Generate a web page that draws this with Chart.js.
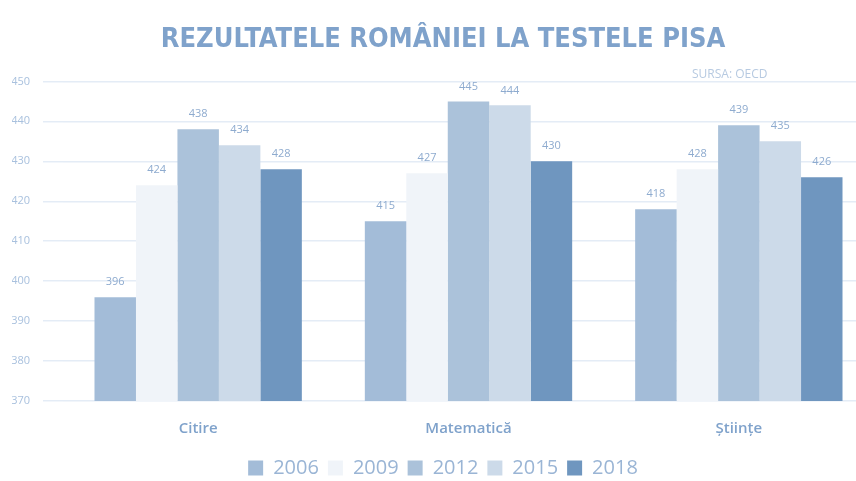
<!DOCTYPE html>
<html>
<head>
<meta charset="utf-8">
<script src="https://cdn.jsdelivr.net/npm/chart.js@4"></script>
<style>
  html, body { margin: 0; padding: 0; background: #fff; overflow: hidden; }
  #wrap { width: 856px; height: 481px; overflow: hidden; }
</style>
</head>
<body>
<div id="wrap"><canvas id="chart" width="880" height="481"></canvas></div>
<script>
const categories = ['Citire', 'Matematică', 'Științe'];
const years = ['2006', '2009', '2012', '2015', '2018'];
const scores2006 = [396, 415, 418];
const scores2009 = [424, 427, 428];
const scores2012 = [438, 445, 439];
const scores2015 = [434, 444, 435];
const scores2018 = [428, 430, 426];
const yTicks = [370, 380, 390, 400, 410, 420, 430, 440, 450];

const colors = ['#a3bcd8', '#f0f4f9', '#abc2da', '#ccdae9', '#6f96bf'];
const allScores = [scores2006, scores2009, scores2012, scores2015, scores2018];

const datasets = years.map((y, i) => ({
  label: y,
  data: allScores[i],
  backgroundColor: colors[i],
  borderWidth: 0,
  categoryPercentage: 0.767,
  barPercentage: 1.0,
}));

// value labels over bars and the source note
const barLabels = {
  id: 'barLabels',
  afterDatasetsDraw(chart) {
    const ctx = chart.ctx;
    ctx.save();
    ctx.font = '11px "Open Sans"';
    ctx.fillStyle = '#8eabcf';
    ctx.textAlign = 'center';
    ctx.textBaseline = 'middle';
    chart.data.datasets.forEach((ds, i) => {
      chart.getDatasetMeta(i).data.forEach((bar, j) => {
        ctx.fillText(ds.data[j], bar.x, bar.y - 15);
      });
    });
    ctx.font = '12px "Open Sans"';
    ctx.fillStyle = '#b7cae1';
    ctx.textAlign = 'left';
    ctx.fillText('SURSA: OECD', 692, 75);
    ctx.restore();
  },
};

new Chart(document.getElementById('chart'), {
  type: 'bar',
  data: { labels: categories, datasets },
  options: {
    responsive: false,
    animation: false,
    layout: { padding: { left: 12, right: 6, bottom: -7 } },
    scales: {
      x: {
        grid: { display: false },
        border: { display: false },
        ticks: {
          color: '#7fa2cb',
          font: { family: 'Open Sans', size: 15, weight: '600' },
          padding: 11,
        },
      },
      y: {
        min: 370,
        max: 450,
        afterBuildTicks(scale) { scale.ticks = yTicks.map(v => ({ value: v })); },
        afterFit(scale) { scale.width = 51; },
        border: { display: false },
        grid: { color: '#e4ecf6', lineWidth: 1.5, tickLength: 20 },
        ticks: {
          color: '#a9c1de',
          font: { family: 'Open Sans', size: 11 },
          padding: 13,
        },
      },
    },
    plugins: {
      title: {
        display: true,
        text: 'REZULTATELE ROMÂNIEI LA TESTELE PISA',
        color: '#7fa2cb',
        font: { family: '"Liberation Sans Narrow", "DejaVu Sans Condensed", "Open Sans"', size: 27, weight: 'bold' },
        padding: { top: 24, bottom: 25 },
      },
      legend: {
        position: 'bottom',
        labels: {
          color: '#9ab5d5',
          font: { family: 'Open Sans', size: 20 },
          boxWidth: 15,
          boxHeight: 15,
          padding: 9,
        },
      },
      tooltip: { enabled: false },
    },
  },
  plugins: [barLabels],
});
</script>
</body>
</html>
